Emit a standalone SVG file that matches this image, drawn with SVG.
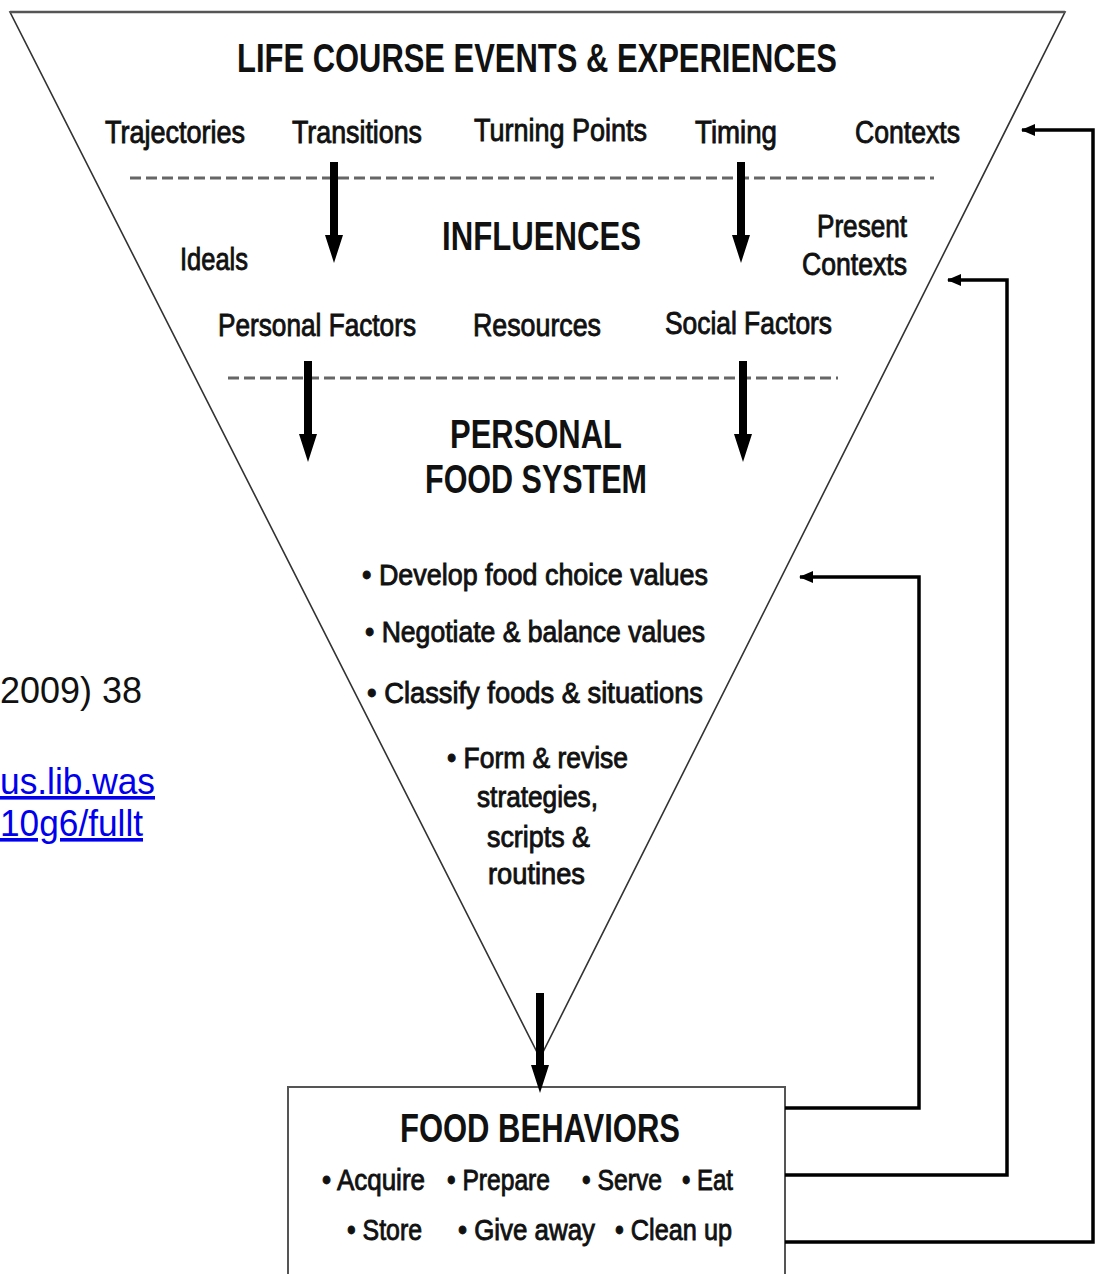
<svg xmlns="http://www.w3.org/2000/svg" width="1103" height="1274" viewBox="0 0 1103 1274">
<defs>
<marker id="ah" viewBox="0 0 14 12" refX="13" refY="6" markerWidth="14" markerHeight="12" markerUnits="userSpaceOnUse" orient="auto">
<path d="M0,0 L14,6 L0,12 Z" fill="#000"/>
</marker>
<style>
.t{font-family:"Liberation Sans",Arial,sans-serif;fill:#111;}
.h{font-weight:bold;}
.b{font-size:32px;stroke:#111;stroke-width:0.9px;}
.s{font-size:30px;stroke:#111;stroke-width:0.9px;}
.big{font-size:41px;font-weight:bold;}
.dash{stroke:#666;stroke-width:3;stroke-dasharray:11 5;fill:none;}
.arr{fill:#000;}
.fb{stroke:#000;stroke-width:3.5;fill:none;}
.link{font-family:"Liberation Sans",Arial,sans-serif;font-size:36px;fill:#0000ee;text-decoration:underline;}
</style>
</defs>
<rect width="1103" height="1274" fill="#fff"/>

<g id="side-text">
<text class="t" x="0" y="703" font-size="36" fill="#000" textLength="142" lengthAdjust="spacingAndGlyphs">2009) 38</text>
<text class="link" x="0" y="794" textLength="155" lengthAdjust="spacingAndGlyphs">us.lib.was</text>
<text class="link" x="0" y="836" textLength="143" lengthAdjust="spacingAndGlyphs">10g6/fullt</text>
</g>

<g id="funnel">
<polygon points="10,12 1065,12 540,1058" fill="#fff" stroke="#333" stroke-width="1.6"/>
<line x1="10" y1="12" x2="1065" y2="12" stroke="#555" stroke-width="2.5"/>
</g>

<g id="life-course">
<text class="t big" x="237" y="72" textLength="600" lengthAdjust="spacingAndGlyphs">LIFE COURSE EVENTS &amp; EXPERIENCES</text>
<text class="t b" x="105" y="143" textLength="140" lengthAdjust="spacingAndGlyphs">Trajectories</text>
<text class="t b" x="292" y="143" textLength="130" lengthAdjust="spacingAndGlyphs">Transitions</text>
<text class="t b" x="474" y="141" textLength="173" lengthAdjust="spacingAndGlyphs">Turning Points</text>
<text class="t b" x="695" y="143" textLength="82" lengthAdjust="spacingAndGlyphs">Timing</text>
<text class="t b" x="855" y="143" textLength="105" lengthAdjust="spacingAndGlyphs">Contexts</text>
</g>

<g id="influences">
<text class="t big" x="442" y="250" textLength="199" lengthAdjust="spacingAndGlyphs">INFLUENCES</text>
<text class="t b" x="180" y="270" textLength="68" lengthAdjust="spacingAndGlyphs">Ideals</text>
<text class="t b" x="817" y="237" textLength="90" lengthAdjust="spacingAndGlyphs">Present</text>
<text class="t b" x="802" y="275" textLength="105" lengthAdjust="spacingAndGlyphs">Contexts</text>
<text class="t b" x="218" y="336" textLength="198" lengthAdjust="spacingAndGlyphs">Personal Factors</text>
<text class="t b" x="473" y="336" textLength="128" lengthAdjust="spacingAndGlyphs">Resources</text>
<text class="t b" x="665" y="334" textLength="167" lengthAdjust="spacingAndGlyphs">Social Factors</text>
</g>

<g id="personal-food-system">
<text class="t big" x="450" y="448" font-size="39" textLength="172" lengthAdjust="spacingAndGlyphs">PERSONAL</text>
<text class="t big" x="425" y="493" font-size="39" textLength="222" lengthAdjust="spacingAndGlyphs">FOOD SYSTEM</text>
<text class="t s" x="362" y="585" textLength="346" lengthAdjust="spacingAndGlyphs">•  Develop food choice values</text>
<text class="t s" x="365" y="642" textLength="340" lengthAdjust="spacingAndGlyphs">•  Negotiate &amp; balance values</text>
<text class="t s" x="367" y="703" textLength="336" lengthAdjust="spacingAndGlyphs">•  Classify foods &amp; situations</text>
<text class="t s" x="447" y="768" textLength="181" lengthAdjust="spacingAndGlyphs">•  Form &amp; revise</text>
<text class="t s" x="477" y="807" textLength="121" lengthAdjust="spacingAndGlyphs">strategies,</text>
<text class="t s" x="487" y="847" textLength="103" lengthAdjust="spacingAndGlyphs">scripts &amp;</text>
<text class="t s" x="488" y="884" textLength="97" lengthAdjust="spacingAndGlyphs">routines</text>
</g>

<g id="food-behaviors">
<rect x="288" y="1087" width="497" height="200" fill="#fff" stroke="#555" stroke-width="2"/>
<text class="t big" x="400" y="1142" textLength="280" lengthAdjust="spacingAndGlyphs">FOOD BEHAVIORS</text>
<text class="t s" x="322" y="1190" textLength="103" lengthAdjust="spacingAndGlyphs">• Acquire</text>
<text class="t s" x="447" y="1190" textLength="103" lengthAdjust="spacingAndGlyphs">• Prepare</text>
<text class="t s" x="582" y="1190" textLength="80" lengthAdjust="spacingAndGlyphs">• Serve</text>
<text class="t s" x="682" y="1190" textLength="51" lengthAdjust="spacingAndGlyphs">• Eat</text>
<text class="t s" x="347" y="1240" textLength="75" lengthAdjust="spacingAndGlyphs">• Store</text>
<text class="t s" x="458" y="1240" textLength="137" lengthAdjust="spacingAndGlyphs">• Give  away</text>
<text class="t s" x="615" y="1240" textLength="117" lengthAdjust="spacingAndGlyphs">• Clean up</text>
</g>

<g id="connectors">
<line class="dash" x1="130" y1="178" x2="934" y2="178"/>
<line class="dash" x1="228" y1="378" x2="838" y2="378"/>
<path class="arr" d="M330,162 h8 v73 h5 l-9,28 l-9,-28 h5 Z"/>
<path class="arr" d="M737,162 h8 v73 h5 l-9,28 l-9,-28 h5 Z"/>
<path class="arr" d="M304,361 h8 v73 h5 l-9,28 l-9,-28 h5 Z"/>
<path class="arr" d="M739,361 h8 v73 h5 l-9,28 l-9,-28 h5 Z"/>
<path class="arr" d="M536,993 h8 v72 h5 l-9,28 l-9,-28 h5 Z"/>
<polyline class="fb" points="785,1108 919,1108 919,577 800,577" marker-end="url(#ah)"/>
<polyline class="fb" points="785,1175 1007,1175 1007,280 948,280" marker-end="url(#ah)"/>
<polyline class="fb" points="785,1242 1093,1242 1093,130 1022,130" marker-end="url(#ah)"/>
</g>
</svg>
